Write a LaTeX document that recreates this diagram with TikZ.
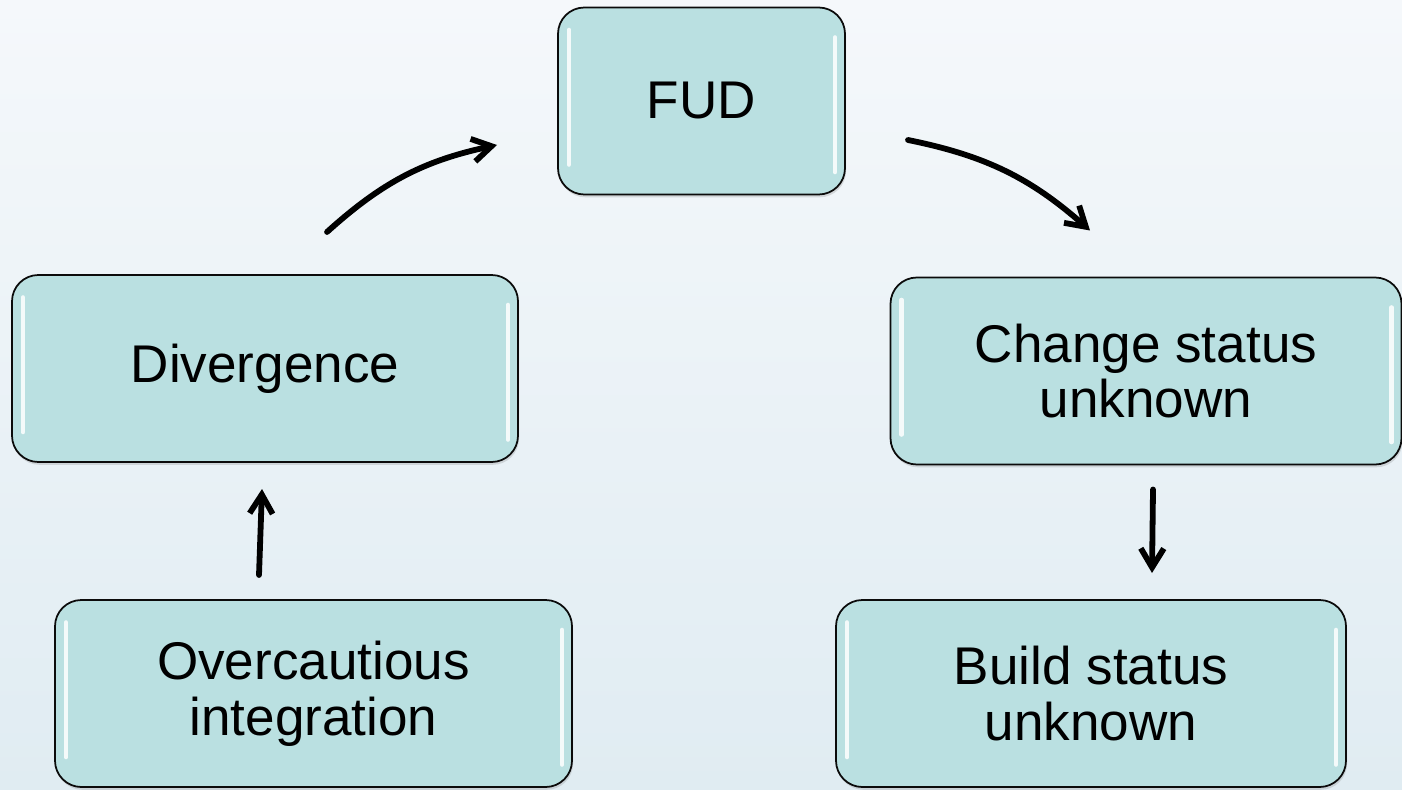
\documentclass[tikz,border=0pt]{standalone}
\usepackage{fontspec}
\setmainfont{Liberation Sans}
\usepackage{tikz}
\usetikzlibrary{arrows.meta,positioning,shadows}
\definecolor{fdtop}{HTML}{F5F8FB}
\definecolor{fdbot}{HTML}{E0ECF2}
\definecolor{fdbox}{HTML}{BAE0E1}
\definecolor{fdink}{HTML}{0B0B0B}
\tikzset{
  stage/.style={draw=fdink,line width=1pt,fill=fdbox,rounded corners=15pt,
              minimum height=3.74cm,inner sep=0pt,outer sep=0pt,align=center,
              font=\fontsize{30.2}{31.8}\selectfont,text=black,
              drop shadow={opacity=0.25,shadow xshift=0.6pt,shadow yshift=-1.6pt},
              path picture={
                \draw[white,line width=2.6pt,line cap=round,opacity=0.85]
                  ([xshift=0.22cm,yshift=-0.45cm]path picture bounding box.north west)
                  -- ([xshift=0.22cm,yshift=0.6cm]path picture bounding box.south west)
                  ([xshift=-0.2cm,yshift=-0.6cm]path picture bounding box.north east)
                  -- ([xshift=-0.2cm,yshift=0.45cm]path picture bounding box.south east);}},
  flowe/.style={-{Straight Barb[length=3.8mm,width=4.6mm]},line width=3.3pt,
              line cap=round,draw=black},
}

\begin{document}
\begin{tikzpicture}[x=1cm,y=1cm]

  % ---------- background ----------
  \useasboundingbox (0,0) rectangle (28.04,15.78);
  \shade[top color=fdtop,bottom color=fdbot] (0,0) rectangle (28.04,15.78);

  % ---------- stages ----------
  \node[stage,minimum width=5.74cm]  (fud) at (14.03,13.76) {FUD};
  \node[stage,minimum width=10.12cm] (div) at (5.30,8.41)   {Divergence};
  \node[stage,minimum width=10.22cm] (chg) at (22.92,8.36)  {Change status\\unknown};
  \node[stage,minimum width=10.34cm] (ovc) at (6.27,1.91)   {Overcautious\\integration};
  \node[stage,minimum width=10.20cm] (bld) at (21.82,1.91)  {Build status\\unknown};

  % ---------- cycle arrows ----------
  \draw[flowe] ([shift={(1.24,0.86)}]div.north) to[bend left=15]
    ([shift={(-1.22,-0.88)}]fud.west);
  \draw[flowe] ([shift={(1.26,-0.78)}]fud.east) to[bend left=15]
    ([shift={(-1.12,0.94)}]chg.north);
  \draw[flowe] ([shift={(0.14,-0.5)}]chg.south) -- ([shift={(1.22,0.54)}]bld.north);
  \draw[flowe] ([shift={(-1.09,0.5)}]ovc.north) -- ([shift={(-0.06,-0.54)}]div.south);
\end{tikzpicture}
\end{document}
